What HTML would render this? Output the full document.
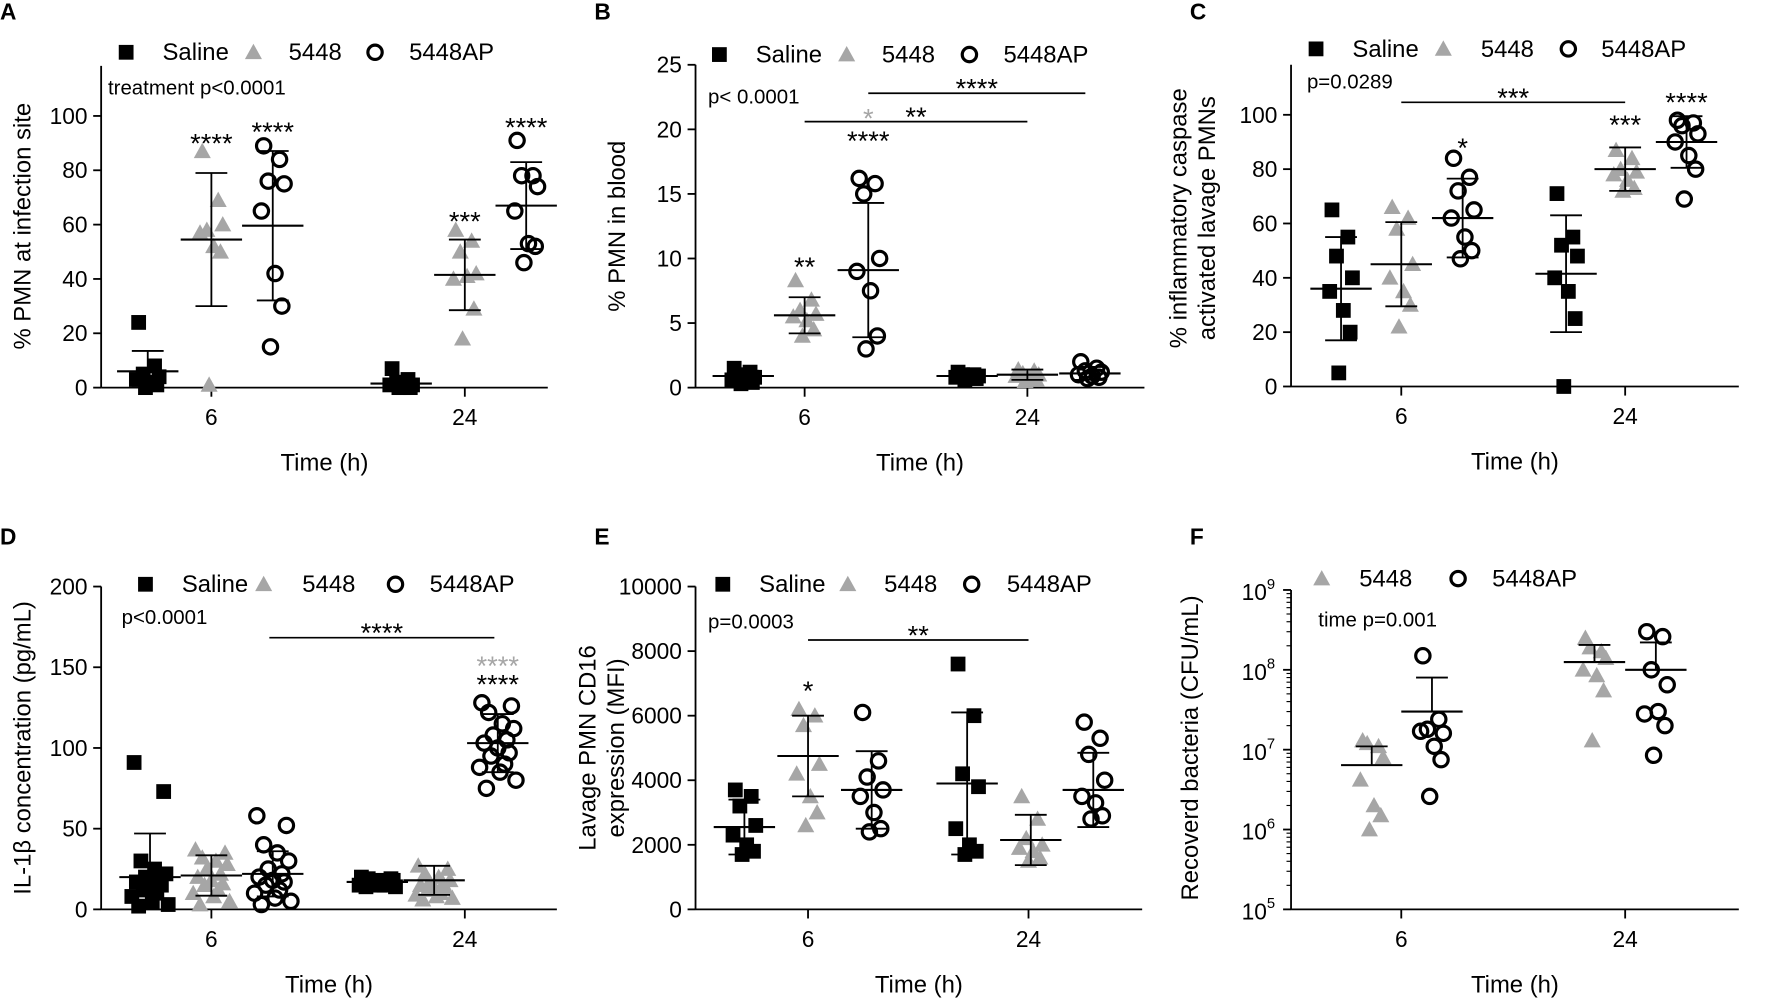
<!DOCTYPE html>
<html><head><meta charset="utf-8"><style>
html,body{margin:0;padding:0;background:#fff;}
svg{display:block;font-family:"Liberation Sans",Arial,sans-serif;}
</style></head><body>
<svg id="fig" width="1782" height="1006" viewBox="0 0 1568 885" preserveAspectRatio="none" xmlns="http://www.w3.org/2000/svg"></svg>
<script>
const groupsLabels = ["Saline","5448","5448AP"];
const timeLabels = ["6","24"];
// Panel A
const aVals = [[24,8,5,4,3,2,1,0],[87,69,58,60,57,52,50,1],[89,84,76,75,65,42,30,15],[7,3,2,1,1,0,0,0],[58,54,50,42,40,41,29,18],[91,78,78,74,65,53,52,46]];
const aMean = [6,54.5,59.6,1.5,41.5,67];
const aSd = [7.5,24.5,27.5,1.5,13,16];
const aTicks = [0,20,40,60,80,100];
// Panel B
const bVals = [[1.5,1.2,1,0.8,0.6,0.5,0.4,0.3],[8.3,6.8,6,5.7,5.5,5.2,4.5,4],[16.2,15.8,15,10,9,7.5,4,3],[1.2,1,1,0.9,0.8,0.8,0.7,0.6],[1.4,1.3,1.1,1,0.9,0.8,0.6,0.5],[2,1.5,1.3,1.2,1,0.9,0.8,0.7]];
const bMean = [0.9,5.6,9.1,0.9,1,1.1];
const bSd = [0.4,1.4,5.2,0.3,0.4,0.5];
const bTicks = [0,5,10,15,20,25];
// Panel C
const cVals = [[65,55,48,40,35,28,20,5],[66,62,58,45,40,35,30,22],[84,77,72,65,62,55,50,47],[71,55,52,48,40,35,25,0],[87,84,80,79,78,76,73,72],[98,97,96,93,90,85,80,69]];
const cMean = [36,45,62,41.5,80,90];
const cSd = [19,15.5,14.5,21.5,8,9.5];
const cTicks = [0,20,40,60,80,100];
// Panel D
const dVals = [[91,73,30,25,22,20,18,17,16,15,12,10,8,5,3,2],[37,35,32,30,28,25,22,20,18,16,15,12,10,8,5,3],[58,52,40,35,30,25,22,20,18,17,15,12,10,7,5,3],[20,19,19,18,18,17,17,17,16,16,16,15,15,15,14,14],[27,25,22,20,18,17,16,15,14,13,12,10,9,8,7,6],[128,126,122,115,112,108,105,103,100,97,95,90,88,85,80,75]];
const dMean = [20,21,22,17,18,103];
const dSd = [27,12.5,14,2,9,18];
const dTicks = [0,50,100,150,200];
// Panel E
const eVals = [[3700,3500,3200,2600,2300,2000,1800,1700],[6200,6000,5700,4500,4200,3500,3000,2600],[6100,4600,4100,3700,3500,3000,2500,2400],[7600,6000,4200,3800,2500,2000,1800,1700],[3500,2800,2200,2000,1900,1800,1600,1500],[5800,5300,4800,4000,3500,3300,2900,2800]];
const eMean = [2550,4750,3700,3900,2150,3700];
const eSd = [850,1250,1200,2200,780,1150];
const eTicks = [0,2000,4000,6000,8000,10000];
// Panel F (log)
const fVals = [[1.3e7,1.1e7,1.2e7,8e6,4.2e6,2e6,1.5e6,1e6],[1.5e8,2.4e7,1.8e7,1.6e7,1.7e7,1.1e7,7.5e6,2.6e6],[2.5e8,1.7e8,1.9e8,1.4e8,1e8,8.5e7,5.5e7,1.3e7],[3e8,2.6e8,1e8,6.5e7,2.8e7,3e7,2e7,8.5e6]];
const fMean = [6.4e6,3e7,1.25e8,1e8];
const fUpper = [1.1e7,8e7,2.05e8,2.2e8];
const fTicks = [5,6,7,8,9];

const NS="http://www.w3.org/2000/svg";
const svg=document.getElementById('fig');
function el(tag,attrs,parent){const e=document.createElementNS(NS,tag);for(const k in attrs)e.setAttribute(k,attrs[k]);(parent||svg).appendChild(e);return e;}
function txt(x,y,s,size,anchor,parent,extra){const t=el('text',Object.assign({x:x,y:y,'font-size':size,'text-anchor':anchor||'start',fill:'#000'},extra||{}),parent);t.textContent=s;return t;}
const jit8=[-8,6,-4,10,-10,2,8,-2];
const jit16=[-14,12,-8,4,14,-4,8,-12,0,10,-6,6,-16,2,16,-10];
function marker(g,type,x,y){
  let m;
  if(type===0){m=el('rect',{x:x-6.5,y:y-6.5,width:13,height:13,fill:'#000'},g);}
  else if(type===1){m=el('polygon',{points:`${x},${y-7.5} ${x+7.5},${y+6} ${x-7.5},${y+6}`,fill:'#a6a6a6'},g);}
  else {m=el('circle',{cx:x,cy:y,r:6.3,fill:'none',stroke:'#000','stroke-width':2.8},g);}
  
  
}
function legend(g,items,y){
  items.forEach(it=>{
    marker(g,it.t,it.mx,y-7);
    const t=txt(it.lx,y,it.s,21,'start',g);
    
    
  });
}
function panel(cfg){
  const g=el('g',{});
  
  
  const yS=v=>cfg.y0-(v-cfg.vmin)/(cfg.vmax-cfg.vmin)*(cfg.y0-cfg.y1);
  const L=txt(cfg.letX,cfg.letY,cfg.letter,20,'start',g,{'font-weight':'bold'});
  
  el('line',{x1:cfg.ax,y1:cfg.y0,x2:cfg.ax,y2:cfg.ytop,stroke:'#000','stroke-width':1.6},g);
  el('line',{x1:cfg.ax,y1:cfg.y0,x2:cfg.xend,y2:cfg.y0,stroke:'#000','stroke-width':1.6},g);
  cfg.ticks.forEach((t,i)=>{
    const y=yS(t);
    el('line',{x1:cfg.ax-7,y1:y,x2:cfg.ax,y2:y,stroke:'#000','stroke-width':1.6},g);
    if(cfg.log){
      const tt=txt(cfg.ax-14,y+9,'10',20,'end',g);
      const sp=el('tspan',{dy:-10,'font-size':13},tt);sp.textContent=String(t);
      if(i<cfg.ticks.length-1){for(let k=2;k<10;k++){const yy=yS(t+Math.log10(k));el('line',{x1:cfg.ax-4,y1:yy,x2:cfg.ax,y2:yy,stroke:'#000','stroke-width':1},g);}}
    } else {
      const tt=txt(cfg.ax-12,y+7,String(t),20,'end',g);
      
    }
  });
  timeLabels.forEach((s,i)=>{
    const x=cfg.tx[i];
    el('line',{x1:x,y1:cfg.y0,x2:x,y2:cfg.y0+8,stroke:'#000','stroke-width':1.6},g);
    const tt=txt(x,cfg.y0+33,s,20,'middle',g);
    
  });
  const xt=txt((cfg.ax+cfg.xend)/2,cfg.y0+73,'Time (h)',21,'middle',g);
  
  cfg.ylab.forEach((s,i)=>{
    const x=cfg.ylx+i*25,y=cfg.yly;
    const t=txt(x,y,s,21,'middle',g,{transform:`rotate(-90 ${x} ${y})`});
    
  });
  cfg.vals.forEach((arr,gi)=>{
    const x=cfg.gx[gi],type=cfg.types[gi];
    const jit=arr.length>8?jit16:jit8;
    arr.forEach((v,k)=>marker(g,type,x+jit[k],yS(cfg.log?Math.log10(v):v)));
    const m=cfg.log?Math.log10(cfg.mean[gi]):cfg.mean[gi];
    const up=cfg.log?Math.log10(cfg.upper[gi]):cfg.mean[gi]+cfg.sd[gi];
    const lo=cfg.log?m:Math.max(cfg.vmin,cfg.mean[gi]-cfg.sd[gi]);
    const eb=el('g',{},g);
    
    el('line',{x1:x-27,y1:yS(m),x2:x+27,y2:yS(m),stroke:'#000','stroke-width':1.8},eb);
    el('line',{x1:x,y1:yS(up),x2:x,y2:yS(lo),stroke:'#000','stroke-width':1.6},eb);
    el('line',{x1:x-14,y1:yS(up),x2:x+14,y2:yS(up),stroke:'#000','stroke-width':1.6},eb);
    if(!cfg.log) el('line',{x1:x-14,y1:yS(lo),x2:x+14,y2:yS(lo),stroke:'#000','stroke-width':1.6},eb);
  });
  (cfg.stars||[]).forEach(s=>{const t=txt(s[0],s[1],s[2],24,'middle',g,{fill:s[3]||'#000'});});
  (cfg.brackets||[]).forEach(b=>{el('line',{x1:b[0],y1:b[2],x2:b[1],y2:b[2],stroke:'#000','stroke-width':1.5},g);const t=txt((b[0]+b[1])/2,b[2]+4,b[3],24,'middle',g);});
  const p=txt(cfg.px,cfg.py,cfg.ptext,18,'start',g);
  
  legend(g,cfg.legend,cfg.legY);
}
const T3=[0,1,2,0,1,2];
panel({name:'panel-a',letter:'A',letX:0,letY:17,ax:89,y0:341,y1:102,ytop:58,vmin:0,vmax:100,xend:482,ticks:aTicks,tx:[186,409],gx:[130,186,240,353,409,463],types:T3,vals:aVals,mean:aMean,sd:aSd,
 ylab:['% PMN at infection site'],ylx:27,yly:199,px:95,py:83,ptext:'treatment p<0.0001',
 stars:[[186,134,'****'],[240,124,'****'],[409,203,'***'],[463,120,'****']],
 legend:[{t:0,mx:111,lx:143,s:'Saline'},{t:1,mx:223,lx:254,s:'5448'},{t:2,mx:330,lx:360,s:'5448AP'}],legY:53});
panel({name:'panel-b',letter:'B',letX:523,letY:17,ax:612,y0:341,y1:57,ytop:57,vmin:0,vmax:25,xend:1007,ticks:bTicks,tx:[708,904],gx:[654,708,764,851,904,959],types:T3,vals:bVals,mean:bMean,sd:bSd,
 ylab:['% PMN in blood'],ylx:550,yly:199,px:623,py:91,ptext:'p< 0.0001',
 stars:[[708,243,'**'],[764,112,'*','#a6a6a6'],[764,132,'****']],
 brackets:[[708,904,107,'**'],[764,955,82,'****']],
 legend:[{t:0,mx:633,lx:665,s:'Saline'},{t:1,mx:745,lx:776,s:'5448'},{t:2,mx:853,lx:883,s:'5448AP'}],legY:55});
panel({name:'panel-c',letter:'C',letX:1047,letY:17,ax:1136,y0:340,y1:101,ytop:57,vmin:0,vmax:100,xend:1530,ticks:cTicks,tx:[1233,1430],gx:[1180,1233,1287,1378,1430,1484],types:T3,vals:cVals,mean:cMean,sd:cSd,
 ylab:['% inflammatory caspase','activated lavage PMNs'],ylx:1044,yly:192,px:1150,py:78,ptext:'p=0.0289',
 stars:[[1287,138,'*'],[1430,118,'***'],[1484,98,'****']],
 brackets:[[1233,1430,90,'***']],
 legend:[{t:0,mx:1158,lx:1190,s:'Saline'},{t:1,mx:1270,lx:1303,s:'5448'},{t:2,mx:1380,lx:1409,s:'5448AP'}],legY:50});
panel({name:'panel-d',letter:'D',letX:0,letY:479,ax:89,y0:800,y1:516,ytop:516,vmin:0,vmax:200,xend:490,ticks:dTicks,tx:[186,409],gx:[132,186,240,332,382,438],types:T3,vals:dVals,mean:dMean,sd:dSd,
 ylab:['IL-1β concentration (pg/mL)'],ylx:27,yly:658,px:107,py:549,ptext:'p<0.0001',
 stars:[[438,594,'****','#a6a6a6'],[438,610,'****']],
 brackets:[[237,435,561,'****']],
 legend:[{t:0,mx:128,lx:160,s:'Saline'},{t:1,mx:232,lx:266,s:'5448'},{t:2,mx:348,lx:378,s:'5448AP'}],legY:521});
panel({name:'panel-e',letter:'E',letX:523,letY:479,ax:612,y0:800,y1:516,ytop:516,vmin:0,vmax:10000,xend:1005,ticks:eTicks,tx:[711,905],gx:[655,711,767,851,907,962],types:T3,vals:eVals,mean:eMean,sd:eSd,
 ylab:['Lavage PMN CD16','expression (MFI)'],ylx:524,yly:658,px:623,py:553,ptext:'p=0.0003',
 stars:[[711,616,'*']],
 brackets:[[711,905,563,'**']],
 legend:[{t:0,mx:636,lx:668,s:'Saline'},{t:1,mx:746,lx:778,s:'5448'},{t:2,mx:855,lx:886,s:'5448AP'}],legY:521});
panel({name:'panel-f',letter:'F',letX:1047,letY:479,ax:1136,y0:800,y1:519,ytop:519,vmin:5,vmax:9,xend:1530,log:true,ticks:fTicks,tx:[1233,1430],gx:[1207,1260,1403,1457],types:[1,2,1,2],vals:fVals,mean:fMean,upper:fUpper,
 ylab:['Recoverd bacteria (CFU/mL)'],ylx:1054,yly:658,px:1160,py:551,ptext:'time p=0.001',
 legend:[{t:1,mx:1163,lx:1196,s:'5448'},{t:2,mx:1283,lx:1313,s:'5448AP'}],legY:516});
</script>
</body></html>
